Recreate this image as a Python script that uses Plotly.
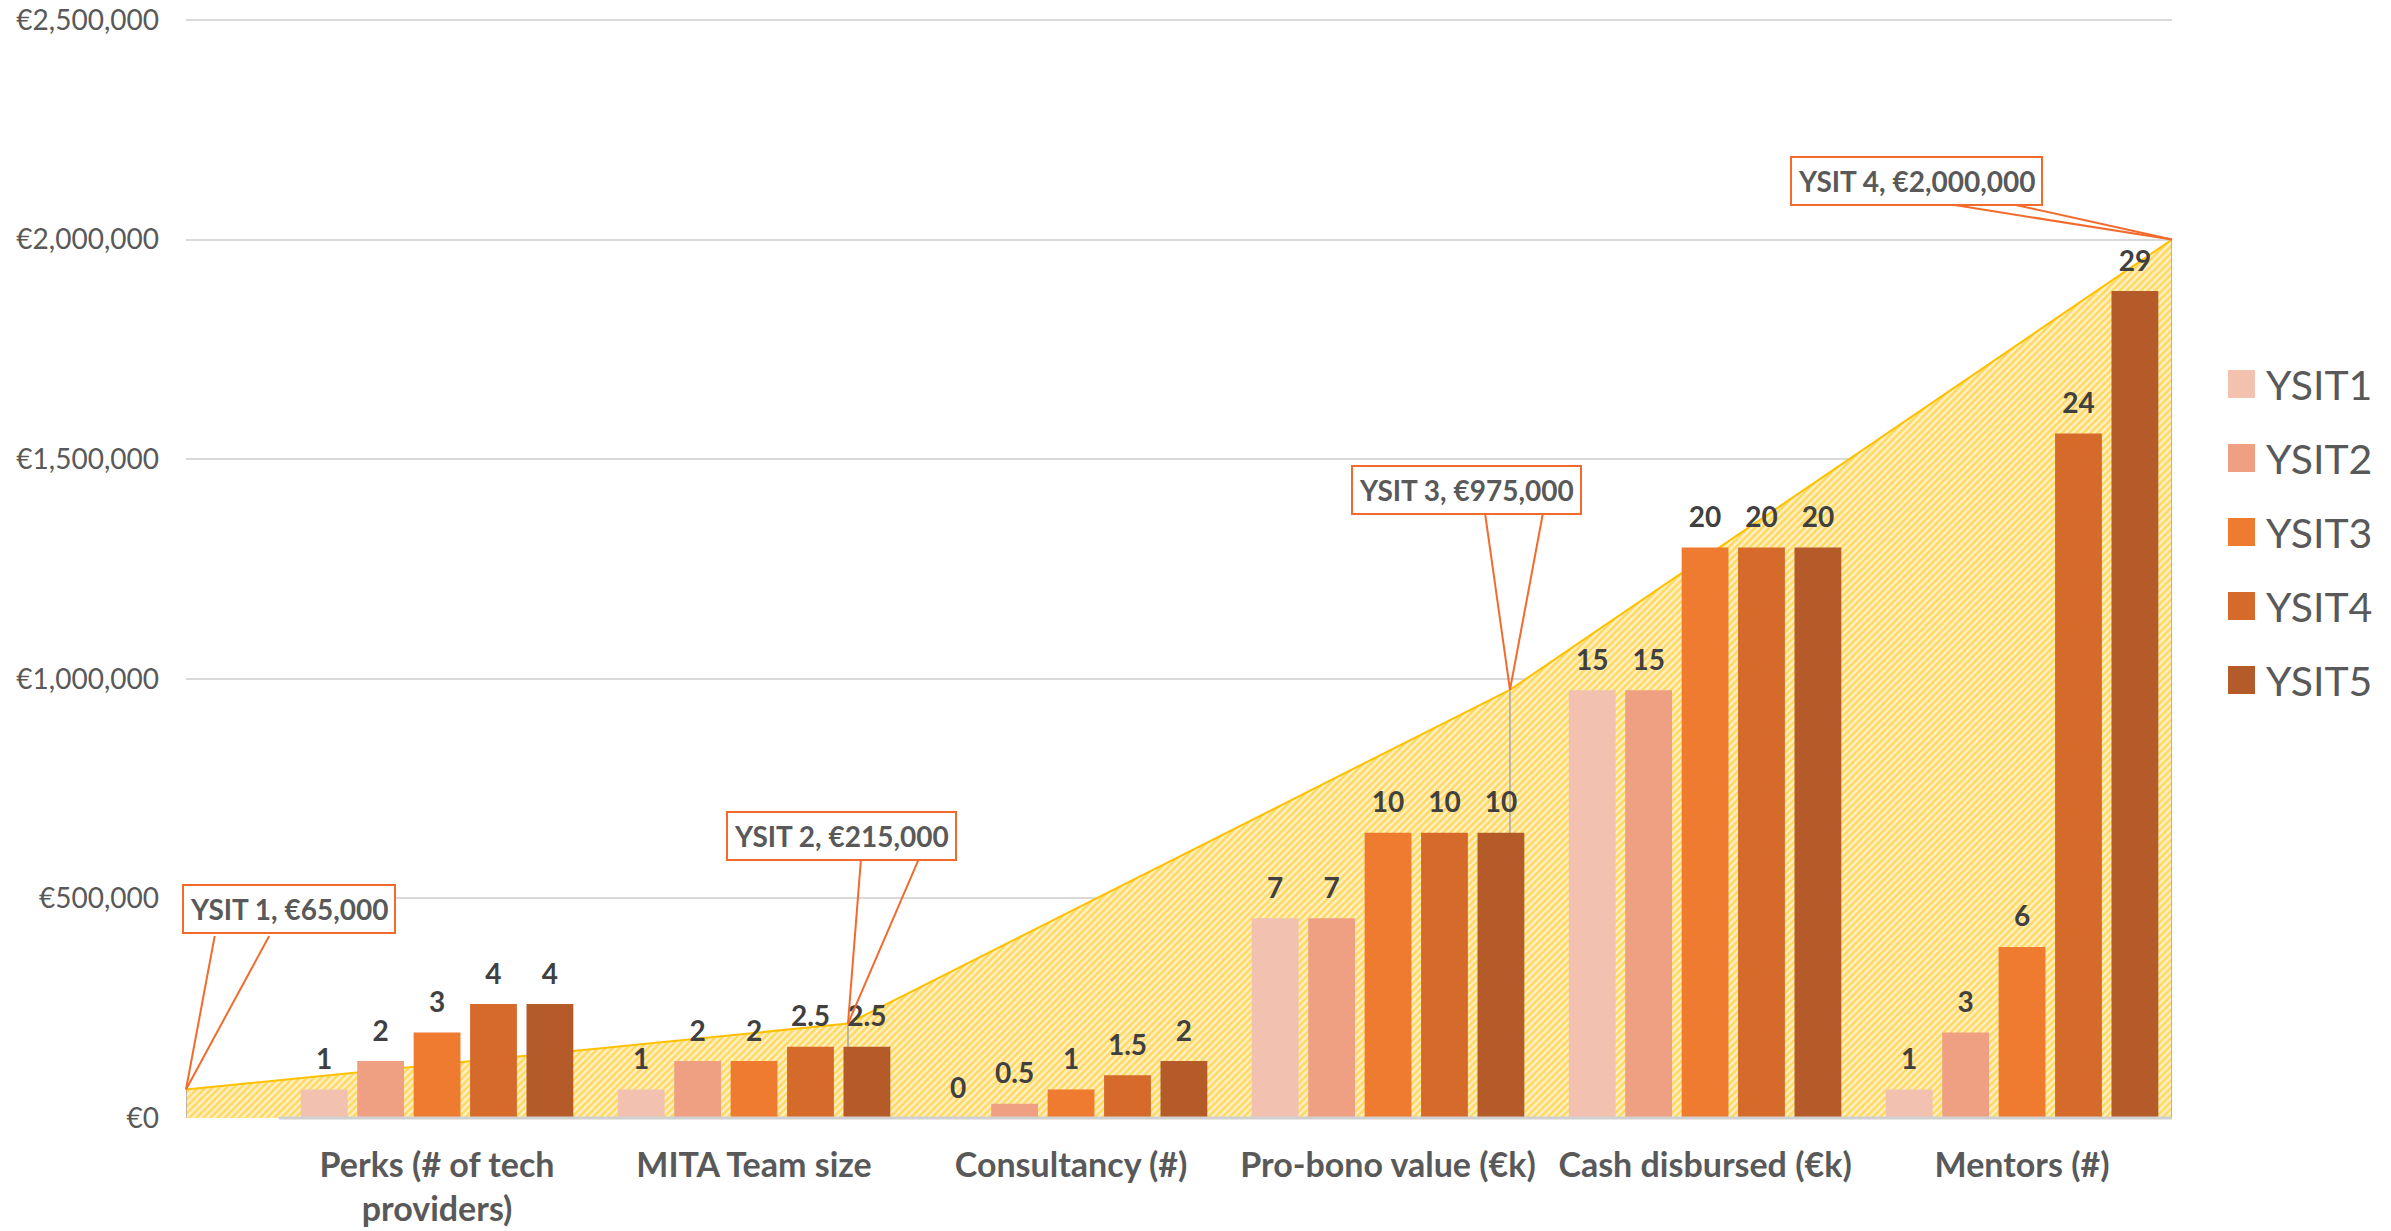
import plotly.graph_objects as go

# ---------------- data ----------------
categories = ["Perks (# of tech<br>providers)", "MITA Team size", "Consultancy (#)",
              "Pro-bono value (€k)", "Cash disbursed (€k)", "Mentors (#)"]
series_names = ["YSIT1", "YSIT2", "YSIT3", "YSIT4", "YSIT5"]
ysit1 = [1, 1, 0, 7, 15, 1]
ysit2 = [2, 2, 0.5, 7, 15, 3]
ysit3 = [3, 2, 1, 10, 20, 6]
ysit4 = [4, 2.5, 1.5, 10, 20, 24]
ysit5 = [4, 2.5, 2, 10, 20, 29]
series_values = [ysit1, ysit2, ysit3, ysit4, ysit5]

budget_labels = ["YSIT 1", "YSIT 2", "YSIT 3", "YSIT 4"]
budget_values = [65000, 215000, 975000, 2000000]
budget_ticks = [0, 500000, 1000000, 1500000, 2000000, 2500000]
budget_ticktext = ["€0", "€500,000", "€1,000,000", "€1,500,000", "€2,000,000", "€2,500,000"]

# ---------------- style ----------------
FONT = "Lato"
bar_colors = ["#F2C1AF", "#EFA083", "#EF7B30", "#D56A2A", "#B55B2A"]
GREY = "#595959"
CALLOUT = "#F26B2D"

W_FIG, H_FIG = 2391, 1231
OFF = 0  # page body margin (removed via post_script)
TOP_GRID = 20                      # page y of the top gridline
L, R, T, B = 186, 2172, 18, 1118   # plot area in page pixels (2px headroom so top grid shows)
PW, PH = R - L, B - T
EXTEND = PH / (B - TOP_GRID)       # axis range stretch for the headroom
Y_MAX = 2500000 * EXTEND
Y2_MAX = 38.5 * EXTEND


def px(x):
    return (x - L) / PW


def py(y):
    return (B - y) / PH


fig = go.Figure()

# area (budget) on base axes
fig.add_trace(go.Scatter(
    x=list(range(len(budget_values))), y=budget_values,
    xaxis="x", yaxis="y",
    mode="lines", fill="tozeroy",
    line=dict(color="#FFC000", width=2),
    fillcolor="#FFEDB8",
    fillpattern=dict(shape="/", size=5, solidity=0.5,
                     fgcolor="#FFC000", bgcolor="#FFF0C4"),
    error_y=dict(type="data", symmetric=False,
                 array=[0] * len(budget_values), arrayminus=budget_values,
                 color="#A6A6A6", thickness=1.5, width=0),
    showlegend=False, hoverinfo="skip",
))

LABEL_GAP = 0.4  # label offset in bar units (style)
for i, (name, vals) in enumerate(zip(series_names, series_values)):
    fig.add_trace(go.Bar(
        x=categories, y=vals, name=name,
        xaxis="x2", yaxis="y2", offsetgroup=str(i),
        marker=dict(color=bar_colors[i], line=dict(width=0)),
        showlegend=False,
    ))
for i, (name, vals) in enumerate(zip(series_names, series_values)):
    fig.add_trace(go.Bar(
        x=categories, y=[v + LABEL_GAP for v in vals],
        xaxis="x2", yaxis="y2", offsetgroup=str(i),
        marker=dict(color="rgba(0,0,0,0)", line=dict(width=0)),
        text=[f"{v:g}" for v in vals], textposition="outside",
        constraintext="none", cliponaxis=False,
        textfont=dict(family=FONT, size=28, color="#404040", weight="bold"),
        showlegend=False, hoverinfo="skip",
    ))

# ---------------- callouts ----------------
box_offsets = [(103, -180), (-7, -188), (-44, -200), (-256, -59)]
wedge_offsets = [[(29, -155), (84, -155)],
                 [(13, -165), (71, -165)],
                 [(-25, -177), (33, -177)],
                 [(-233, -37), (-167, -37)]]
annotations = []
for i, (lab, val) in enumerate(zip(budget_labels, budget_values)):
    for (ax, ay) in wedge_offsets[i]:
        annotations.append(dict(
            x=i, y=val, xref="x", yref="y", text="", showarrow=True,
            arrowhead=0, arrowwidth=2, arrowcolor=CALLOUT, ax=ax, ay=ay, standoff=0,
        ))
for i, (lab, val) in enumerate(zip(budget_labels, budget_values)):
    bx, by = box_offsets[i]
    annotations.append(dict(
        x=i, y=val, xref="x", yref="y", text=f"{lab}, €{val:,}",
        showarrow=True, arrowcolor="rgba(0,0,0,0)", ax=bx, ay=by,
        bordercolor=CALLOUT, borderwidth=2, borderpad=6, bgcolor="white",
        font=dict(family=FONT, size=28, color=GREY, weight="bold"),
    ))

# ---------------- legend (manual) ----------------
shapes = []
for i, name in enumerate(series_names):
    cy = 384 + 74 * i
    shapes.append(dict(type="rect", xref="paper", yref="paper",
                       x0=px(2228), x1=px(2255), y0=py(cy + 14), y1=py(cy - 14),
                       fillcolor=bar_colors[i], line=dict(width=0)))
    annotations.append(dict(x=px(2264), y=py(cy), xref="paper", yref="paper",
                            text=name, showarrow=False, xanchor="left", yanchor="middle",
                            font=dict(family=FONT, size=41, color=GREY)))

# category axis baseline
shapes.append(dict(type="line", xref="x2", yref="paper", x0=-0.5, x1=len(categories) - 0.5,
                   y0=0, y1=0, line=dict(color="#D0D0D0", width=3), layer="above"))

fig.update_layout(
    width=W_FIG, height=H_FIG, autosize=False,
    margin=dict(l=L - OFF, r=W_FIG - R + OFF, t=T - OFF, b=H_FIG - B + OFF),
    paper_bgcolor="white", plot_bgcolor="white",
    font=dict(family=FONT, color=GREY),
    barmode="group", bargap=0.11, bargroupgap=0.17,
    xaxis=dict(range=[0, len(budget_values) - 1], showgrid=False, zeroline=False,
               showticklabels=False, showline=False, fixedrange=True, automargin=False),
    yaxis=dict(range=[0, Y_MAX], tickmode="array", tickvals=budget_ticks,
               ticktext=budget_ticktext, automargin=False, ticklabeloverflow="allow",
               showgrid=True, gridcolor="#D9D9D9", gridwidth=2, zeroline=False,
               showline=False, ticks="", ticklabelstandoff=26,
               tickfont=dict(family=FONT, size=28, color=GREY)),
    xaxis2=dict(type="category", overlaying="x", anchor="y2", automargin=False,
                range=[-0.792, 5.473], showgrid=False, zeroline=False, showline=False,
                ticks="", ticklabelstandoff=24,
                tickfont=dict(family=FONT, size=34, color=GREY, weight="bold")),
    yaxis2=dict(range=[0, Y2_MAX], overlaying="y", visible=False, automargin=False),
    annotations=annotations, shapes=shapes,
)

fig.write_html("out.html", config={"displayModeBar": False},
               post_script="document.body.style.margin='0';document.body.style.overflow='hidden';")
